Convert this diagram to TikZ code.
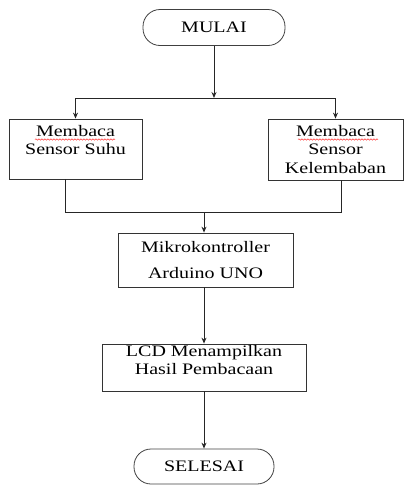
\documentclass[tikz,border=0pt]{standalone}
\usepackage{fontspec}
\setmainfont{Liberation Serif}[FakeStretch=1.25]
\usetikzlibrary{arrows.meta, decorations.pathmorphing}

\begin{document}
\begin{tikzpicture}[x=1pt, y=-1pt,
    every node/.style={font=\fontsize{16}{18.5}\selectfont, text=black},
    terminal/.style={draw=black!75, line width=0.8pt, rounded corners=17pt, minimum width=142pt, minimum height=36pt, inner sep=0pt},
    proses/.style={draw=black!80, line width=0.8pt, align=center, inner sep=0pt},
    alur/.style={draw=black!85, line width=1pt, -{Stealth[length=6pt,width=5pt]}},
    garis/.style={draw=black!85, line width=1pt},
    salah/.style={draw=red!80, line width=0.5pt, decorate, decoration={snake, amplitude=0.7pt, segment length=3pt}}]
          \useasboundingbox (0,0) rectangle (404,485);
          % Start and end
          \node[terminal] (mulai) at (214,27.5) {MULAI};
          \node[terminal, minimum width=140pt, minimum height=35pt] (selesai) at (204,466.5) {SELESAI};
          % Sensors
          \node[proses, minimum width=133pt, minimum height=60pt] (suhu) at (75.5,149) {Membaca\\Sensor Suhu\\~};
          \node[proses, minimum width=135pt, minimum height=61pt] (lembab) at (335.5,149.5) {Membaca\\Sensor\\Kelembaban};
          % Processing
          \node[proses, minimum width=175pt, minimum height=54pt] (mikro) at (205.5,260) {Mikrokontroller\\[8pt]Arduino UNO};
          \node[proses, minimum width=204pt, minimum height=47pt] (lcd) at (204,367.5) {LCD Menampilkan\\Hasil Pembacaan\\[-3pt]};
          % Branch
          \coordinate (cabang) at (214,98);
          \draw[alur] (mulai.south) -- (cabang);
          \draw[garis] (suhu.north |- cabang) -- (lembab.north |- cabang);
          \draw[alur] (suhu.north |- cabang) -- (suhu.north);
          \draw[alur] (lembab.north |- cabang) -- (lembab.north);
          % Join
          \coordinate (gabung) at (204,212);
          \draw[garis] ([xshift=-10.5pt]suhu.south) |- ([xshift=6pt]lembab.south |- gabung) -- ([xshift=6pt]lembab.south);
          \draw[alur] (gabung) -- (mikro.north -| gabung);
          \draw[alur] (mikro.south -| gabung) -- (lcd.north -| gabung);
          \draw[alur] (lcd.south -| gabung) -- (selesai.north);
          % Spelling marks
          \draw[salah] (35,139.5) -- (115,139.5);
          \draw[salah] (298,139.5) -- (378,139.5);
        \end{tikzpicture}
\end{document}
